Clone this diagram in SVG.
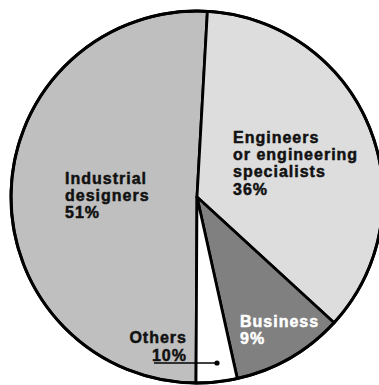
<svg xmlns="http://www.w3.org/2000/svg" width="379" height="385" viewBox="0 0 379 385">
<style>
.sl{stroke:#000;stroke-width:2.8;stroke-linejoin:round}
.t{font-family:"Liberation Sans",Arial,sans-serif;font-weight:bold;font-size:16px;letter-spacing:1px;fill:#111;stroke:#111;stroke-width:0.5}
.w{fill:#fff;stroke:#fff}
</style>
<rect width="379" height="385" fill="#fff"/>
<g id="industrial">
<path class="sl" fill="#bfbfbf" d="M197,197 L196,383 A186,186 0 1 1 207.4,11.3 Z"/>
<text class="t" x="65" y="184">Industrial</text>
<text class="t" x="65" y="201">designers</text>
<text class="t" x="65" y="218">51%</text>
</g>
<g id="engineers">
<path class="sl" fill="#dddddd" d="M197,197 L207.4,11.3 A186,186 0 0 1 334.1,322.7 Z"/>
<text class="t" x="233" y="143">Engineers</text>
<text class="t" x="233" y="160">or engineering</text>
<text class="t" x="233" y="177">specialists</text>
<text class="t" x="233" y="195">36%</text>
</g>
<g id="business">
<path class="sl" fill="#808080" d="M197,197 L334.1,322.7 A186,186 0 0 1 237.3,378.6 Z"/>
<text class="t w" x="240" y="327">Business</text>
<text class="t w" x="240" y="344">9%</text>
</g>
<g id="others">
<path class="sl" fill="#fff" d="M197,197 L237.3,378.6 A186,186 0 0 1 196,383 Z"/>
<text class="t" x="187" y="343" text-anchor="end">Others</text>
<text class="t" x="187" y="361" text-anchor="end">10%</text>
</g>
<circle cx="197" cy="197" r="186" fill="none" stroke="#000" stroke-width="3"/>
<g id="connectors">
<line x1="154" y1="363" x2="217" y2="363" stroke="#000" stroke-width="1.5"/>
<circle cx="217" cy="363" r="2.6" fill="#000"/>
</g>
</svg>
